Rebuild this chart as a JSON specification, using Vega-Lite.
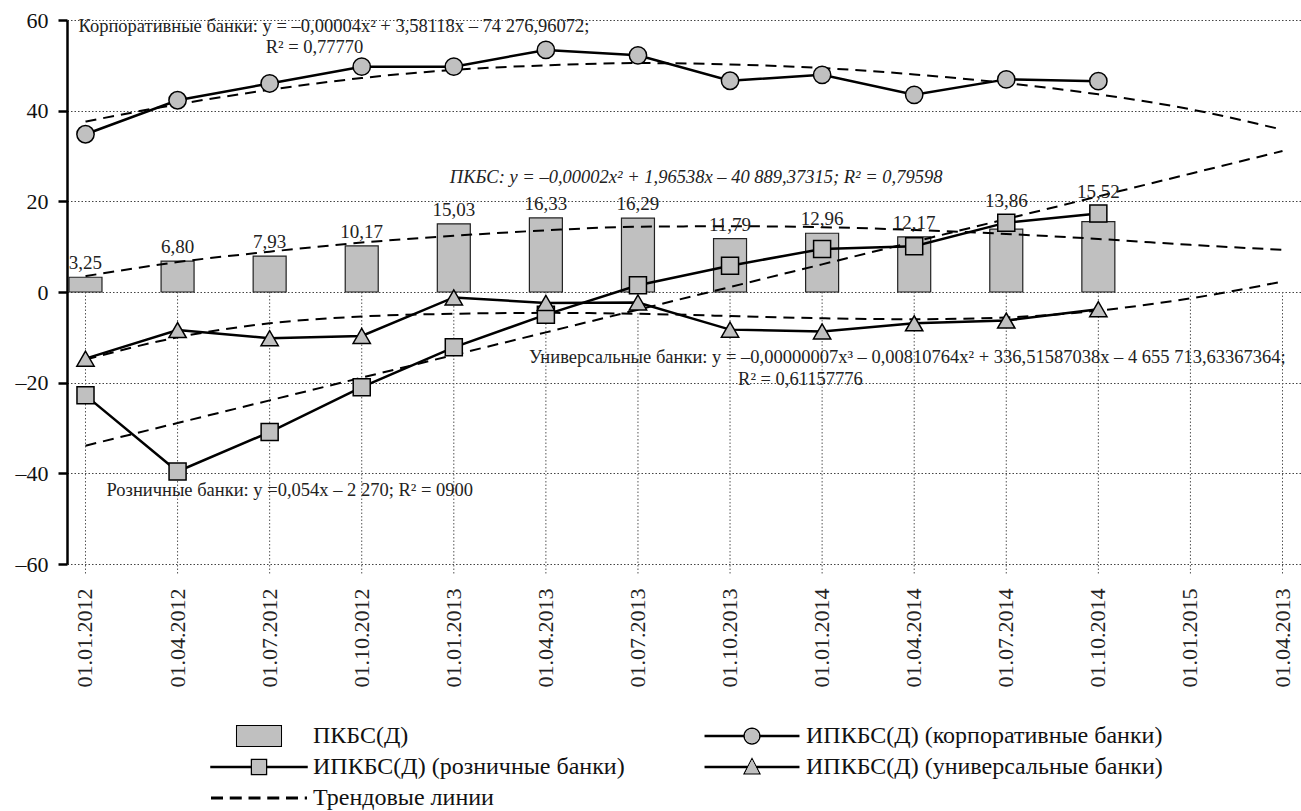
{
  "$schema": "https://vega.github.io/schema/vega-lite/v6.json",
  "width": 1234,
  "height": 544,
  "autosize": {"type": "none"},
  "padding": {"left": 67, "top": 20, "right": 0, "bottom": 247},
  "background": "white",
  "config": {
    "locale": {"number": {"decimal": ",", "thousands": " ", "grouping": [3], "currency": ["", ""], "minus": "–"}},
    "view": {"stroke": null},
    "font": "Liberation Serif",
    "text": {"font": "Liberation Serif"},
    "style": {"guide-label": {"font": "Liberation Serif"}, "guide-title": {"font": "Liberation Serif"}},
    "axis": {"labelFont": "Liberation Serif", "titleFont": "Liberation Serif"},
    "legend": {"labelFont": "Liberation Serif", "titleFont": "Liberation Serif"}
  },
  "resolve": {"scale": {"shape": "independent"}, "legend": {"shape": "independent"}},
  "datasets": {
    "main": [
      {"date": "01.01.2012", "pkbs": 3.25, "corp": 34.8, "retail": -22.8, "univ": -14.7, "tCorp": 37.6, "tPkbs": 3.5, "tRetail": -33.9, "tUniv": -14.9},
      {"date": "01.04.2012", "pkbs": 6.80, "corp": 42.3, "retail": -39.6, "univ": -8.4, "tCorp": 41.4, "tPkbs": 6.6, "tRetail": -28.9, "tUniv": -10.0},
      {"date": "01.07.2012", "pkbs": 7.93, "corp": 46.0, "retail": -30.9, "univ": -10.2, "tCorp": 44.6, "tPkbs": 8.9, "tRetail": -23.9, "tUniv": -6.9},
      {"date": "01.10.2012", "pkbs": 10.17, "corp": 49.7, "retail": -21.0, "univ": -9.7, "tCorp": 47.2, "tPkbs": 10.9, "tRetail": -18.9, "tUniv": -5.4},
      {"date": "01.01.2013", "pkbs": 15.03, "corp": 49.7, "retail": -12.2, "univ": -1.2, "tCorp": 49.0, "tPkbs": 12.4, "tRetail": -13.9, "tUniv": -4.8},
      {"date": "01.04.2013", "pkbs": 16.33, "corp": 53.4, "retail": -5.0, "univ": -2.4, "tCorp": 50.0, "tPkbs": 13.6, "tRetail": -8.9, "tUniv": -4.6},
      {"date": "01.07.2013", "pkbs": 16.29, "corp": 52.2, "retail": 1.5, "univ": -2.3, "tCorp": 50.5, "tPkbs": 14.4, "tRetail": -3.9, "tUniv": -4.8},
      {"date": "01.10.2013", "pkbs": 11.79, "corp": 46.6, "retail": 5.8, "univ": -8.3, "tCorp": 50.2, "tPkbs": 14.5, "tRetail": 1.1, "tUniv": -5.3},
      {"date": "01.01.2014", "pkbs": 12.96, "corp": 47.9, "retail": 9.5, "univ": -8.7, "tCorp": 49.4, "tPkbs": 14.3, "tRetail": 6.1, "tUniv": -5.8},
      {"date": "01.04.2014", "pkbs": 12.17, "corp": 43.5, "retail": 10.1, "univ": -6.9, "tCorp": 48.0, "tPkbs": 13.7, "tRetail": 11.1, "tUniv": -6.0},
      {"date": "01.07.2014", "pkbs": 13.86, "corp": 46.9, "retail": 15.3, "univ": -6.3, "tCorp": 46.1, "tPkbs": 12.8, "tRetail": 16.1, "tUniv": -5.6},
      {"date": "01.10.2014", "pkbs": 15.52, "corp": 46.5, "retail": 17.3, "univ": -3.8, "tCorp": 43.6, "tPkbs": 11.7, "tRetail": 21.1, "tUniv": -4.1},
      {"date": "01.01.2015", "pkbs": null, "corp": null, "retail": null, "univ": null, "tCorp": 40.3, "tPkbs": 10.4, "tRetail": 26.1, "tUniv": -1.4},
      {"date": "01.04.2013 ", "pkbs": null, "corp": null, "retail": null, "univ": null, "tCorp": 35.8, "tPkbs": 9.3, "tRetail": 31.1, "tUniv": 2.3}
    ],
    "legendRows": [
      {"leg": "ПКБС(Д)"},
      {"leg": "ИПКБС(Д) (корпоративные банки)"},
      {"leg": "ИПКБС(Д) (розничные банки)"},
      {"leg": "ИПКБС(Д) (универсальные банки)"},
      {"leg": "Трендовые линии"}
    ],
    "one": [{"k": 1}]
  },
  "data": {"name": "main"},
  "encoding": {
    "x": {
      "field": "date", "type": "nominal", "sort": null,
      "scale": {"type": "band", "paddingInner": 0.6417, "paddingOuter": 0.0217},
      "axis": {
        "title": null, "orient": "bottom", "labelAngle": -90, "labelFontSize": 22,
        "labelFont": "Liberation Serif", "labelColor": "#222", "labelPadding": 24,
        "ticks": false, "domain": false, "grid": false, "labelLimit": 0
      }
    }
  },
  "layer": [
    {
      "mark": {"type": "rule", "stroke": "#555", "strokeWidth": 1, "strokeDash": [1.5, 2]},
      "encoding": {
        "y": {"datum": 0, "type": "quantitative", "scale": {"domain": [-60, 60], "nice": false},
          "axis": {
            "title": null, "values": [-60, -40, -20, 0, 20, 40, 60], "labelFontSize": 22,
            "labelFont": "Liberation Serif", "labelColor": "#111", "labelPadding": 10,
            "domainColor": "black", "domainWidth": 2.5, "tickColor": "black", "tickWidth": 2.5,
            "tickSize": 9, "grid": true, "gridDash": [1.5, 2], "gridColor": "#444", "gridWidth": 1
          }
        },
        "y2": {"datum": -62.5}
      }
    },
    {
      "mark": {"type": "bar", "fill": "#c0c0c0", "stroke": "#222", "strokeWidth": 1.2},
      "encoding": {"y": {"field": "pkbs", "type": "quantitative"}}
    },
    {
      "mark": {"type": "rule", "stroke": "black", "strokeWidth": 2.5},
      "encoding": {"y": {"datum": 0}}
    },
    {
      "mark": {"type": "line", "stroke": "black", "strokeWidth": 2, "strokeDash": [11, 7], "interpolate": "monotone"},
      "encoding": {"y": {"field": "tCorp", "type": "quantitative"}}
    },
    {
      "mark": {"type": "line", "stroke": "black", "strokeWidth": 2, "strokeDash": [11, 7], "interpolate": "monotone"},
      "encoding": {"y": {"field": "tPkbs", "type": "quantitative"}}
    },
    {
      "mark": {"type": "line", "stroke": "black", "strokeWidth": 2, "strokeDash": [11, 7]},
      "encoding": {"y": {"field": "tRetail", "type": "quantitative"}}
    },
    {
      "mark": {"type": "line", "stroke": "black", "strokeWidth": 2, "strokeDash": [11, 7], "interpolate": "monotone"},
      "encoding": {"y": {"field": "tUniv", "type": "quantitative"}}
    },
    {
      "mark": {"type": "line", "stroke": "black", "strokeWidth": 2.5},
      "encoding": {"y": {"field": "corp", "type": "quantitative"}}
    },
    {
      "mark": {"type": "line", "stroke": "black", "strokeWidth": 2.5},
      "encoding": {"y": {"field": "retail", "type": "quantitative"}}
    },
    {
      "mark": {"type": "line", "stroke": "black", "strokeWidth": 2.5},
      "encoding": {"y": {"field": "univ", "type": "quantitative"}}
    },
    {
      "mark": {"type": "point", "shape": "circle", "size": 300, "filled": true, "fill": "#c0c0c0", "stroke": "black", "strokeWidth": 1.5, "opacity": 1},
      "encoding": {"y": {"field": "corp", "type": "quantitative"}}
    },
    {
      "mark": {"type": "point", "shape": "square", "size": 290, "filled": true, "fill": "#c0c0c0", "stroke": "black", "strokeWidth": 1.5, "opacity": 1},
      "encoding": {"y": {"field": "retail", "type": "quantitative"}}
    },
    {
      "mark": {"type": "point", "shape": "triangle-up", "size": 300, "filled": true, "fill": "#c0c0c0", "stroke": "black", "strokeWidth": 1.5, "opacity": 1},
      "encoding": {"y": {"field": "univ", "type": "quantitative"}}
    },
    {
      "transform": [{"filter": "datum.pkbs != null && (datum.retail == null || datum.retail <= datum.pkbs)"}],
      "mark": {"type": "text", "baseline": "alphabetic", "dy": -8, "fontSize": 19, "fill": "#222"},
      "encoding": {
        "y": {"field": "pkbs", "type": "quantitative"},
        "text": {"field": "pkbs", "type": "quantitative", "format": ".2f"}
      }
    },
    {
      "transform": [{"filter": "datum.pkbs != null && datum.retail > datum.pkbs"}],
      "mark": {"type": "text", "baseline": "alphabetic", "dy": -16, "fontSize": 19, "fill": "#222"},
      "encoding": {
        "y": {"field": "retail", "type": "quantitative"},
        "text": {"field": "pkbs", "type": "quantitative", "format": ".2f"}
      }
    },
    {
      "data": {"name": "one"},
      "mark": {"type": "text", "align": "left", "baseline": "alphabetic", "dx": -7, "fontSize": 18.5, "fill": "#222",
        "text": "Корпоративные банки: y = –0,00004x² + 3,58118x – 74 276,96072;"},
      "encoding": {"x": {"datum": "01.01.2012"}, "y": {"datum": 57.4}}
    },
    {
      "data": {"name": "one"},
      "mark": {"type": "text", "align": "left", "baseline": "alphabetic", "dx": -4, "fontSize": 18.5, "fill": "#222",
        "text": "R² = 0,77770"},
      "encoding": {"x": {"datum": "01.07.2012"}, "y": {"datum": 52.7}}
    },
    {
      "data": {"name": "one"},
      "mark": {"type": "text", "align": "left", "baseline": "alphabetic", "dx": -4, "fontSize": 18.5, "fill": "#222", "fontStyle": "italic",
        "text": "ПКБС: y = –0,00002x² + 1,96538x – 40 889,37315; R² = 0,79598"},
      "encoding": {"x": {"datum": "01.01.2013"}, "y": {"datum": 24.1}}
    },
    {
      "data": {"name": "one"},
      "mark": {"type": "text", "align": "left", "baseline": "alphabetic", "dx": -17, "fontSize": 18.5, "fill": "#222",
        "text": "Универсальные банки: y = –0,00000007x³ – 0,00810764x² + 336,51587038x – 4 655 713,63367364;"},
      "encoding": {"x": {"datum": "01.04.2013"}, "y": {"datum": -15.7}}
    },
    {
      "data": {"name": "one"},
      "mark": {"type": "text", "align": "left", "baseline": "alphabetic", "dx": 8, "fontSize": 18.5, "fill": "#222",
        "text": "R² = 0,61157776"},
      "encoding": {"x": {"datum": "01.10.2013"}, "y": {"datum": -20.5}}
    },
    {
      "data": {"name": "one"},
      "mark": {"type": "text", "align": "left", "baseline": "alphabetic", "dx": 21, "fontSize": 18.5, "fill": "#222",
        "text": "Розничные банки: y =0,054x – 2 270; R² = 0900"},
      "encoding": {"x": {"datum": "01.01.2012"}, "y": {"datum": -45}}
    },
    {
      "data": {"name": "legendRows"},
      "mark": {"type": "point", "filled": true, "fill": "black", "size": 0},
      "encoding": {
        "x": null,
        "shape": {
          "field": "leg", "type": "nominal", "sort": null,
          "scale": {
            "domain": ["ПКБС(Д)", "ИПКБС(Д) (корпоративные банки)", "ИПКБС(Д) (розничные банки)", "ИПКБС(Д) (универсальные банки)", "Трендовые линии"],
            "range": [
              "M-6.5,-1.47L-6.5,-1.47M6.5,1.47L6.5,1.47M-3.07,-1.47H3.07V1.47H-3.07Z M-2.9,-1.3V1.3H2.9V-1.3Z",
              "M-6.5,-1.47L-6.5,-1.47M6.5,1.47L6.5,1.47M-6.33,-0.16H-1.05V0.16H-6.33Z M1.05,-0.16H6.33V0.16H1.05Z M-1.15,0A1.15,1.15 0 1,1 1.15,0A1.15,1.15 0 1,1 -1.15,0Z M-0.95,0A0.95,0.95 0 1,0 0.95,0A0.95,0.95 0 1,0 -0.95,0Z",
              "M-6.5,-1.47L-6.5,-1.47M6.5,1.47L6.5,1.47M-6.5,-0.16H-1.1V0.16H-6.5Z M1.1,-0.16H6.5V0.16H1.1Z M-1.1,-1.1H1.1V1.1H-1.1Z M-0.9,-0.9V0.9H0.9V-0.9Z",
              "M-6.5,-1.47L-6.5,-1.47M6.5,1.47L6.5,1.47M-6.33,-0.16H-0.6V0.16H-6.33Z M0.6,-0.16H6.33V0.16H0.6Z M0,-1.3L1.2,1L-1.2,1Z M0,-0.98L-0.92,0.82L0.92,0.82Z",
              "M-6.5,-1.47L-6.5,-1.47M6.5,1.47L6.5,1.47M-6.4,-0.2H-4.8V0.2H-6.4Z M-3.9,-0.2H-2.3V0.2H-3.9Z M-1.4,-0.2H0.2V0.2H-1.4Z M1.1,-0.2H2.7V0.2H1.1Z M3.6,-0.2H5.2V0.2H3.6Z M6.1,-0.2H6.4V0.2H6.1Z"
            ]
          },
          "legend": {
            "title": null, "orient": "none", "legendX": 180, "legendY": 704, "columns": 2, "direction": "horizontal",
            "columnPadding": 78, "rowPadding": 7, "padding": 0,
            "symbolSize": 225, "symbolOpacity": 1, "symbolFillColor": "black",
            "symbolStrokeColor": "transparent", "symbolStrokeWidth": 0,
            "labelFont": "Liberation Serif", "labelFontSize": 24, "labelColor": "#111",
            "labelOffset": 42, "labelLimit": 0,
            "encode": {"symbols": {"fill": {"value": "black"}, "opacity": {"value": 1}}}
          }
        }
      }
    },
    {
      "data": {"name": "legendRows"},
      "mark": {"type": "point", "filled": true, "fill": "#c0c0c0", "size": 0},
      "encoding": {
        "x": null,
        "shape": {
          "field": "leg", "type": "nominal", "sort": null,
          "scale": {
            "domain": ["ПКБС(Д)", "ИПКБС(Д) (корпоративные банки)", "ИПКБС(Д) (розничные банки)", "ИПКБС(Д) (универсальные банки)", "Трендовые линии"],
            "range": [
              "M-6.5,-1.47L-6.5,-1.47M6.5,1.47L6.5,1.47M-2.9,-1.3H2.9V1.3H-2.9Z",
              "M-6.5,-1.47L-6.5,-1.47M6.5,1.47L6.5,1.47M-0.95,0A0.95,0.95 0 1,1 0.95,0A0.95,0.95 0 1,1 -0.95,0Z",
              "M-6.5,-1.47L-6.5,-1.47M6.5,1.47L6.5,1.47M-0.9,-0.9H0.9V0.9H-0.9Z",
              "M-6.5,-1.47L-6.5,-1.47M6.5,1.47L6.5,1.47M0,-0.98L0.92,0.82L-0.92,0.82Z",
              "M-6.5,-1.47L-6.5,-1.47M6.5,1.47L6.5,1.47"
            ]
          },
          "legend": {
            "title": null, "orient": "none", "legendX": 180, "legendY": 704, "columns": 2, "direction": "horizontal",
            "columnPadding": 78, "rowPadding": 7, "padding": 0,
            "symbolSize": 225, "symbolOpacity": 1, "symbolFillColor": "#c0c0c0",
            "symbolStrokeColor": "transparent", "symbolStrokeWidth": 0,
            "labelFont": "Liberation Serif", "labelFontSize": 24, "labelColor": "#111", "labelOpacity": 0,
            "labelOffset": 42, "labelLimit": 0,
            "encode": {"symbols": {"fill": {"value": "#c0c0c0"}, "opacity": {"value": 1}}}
          }
        }
      }
    }
  ]
}
